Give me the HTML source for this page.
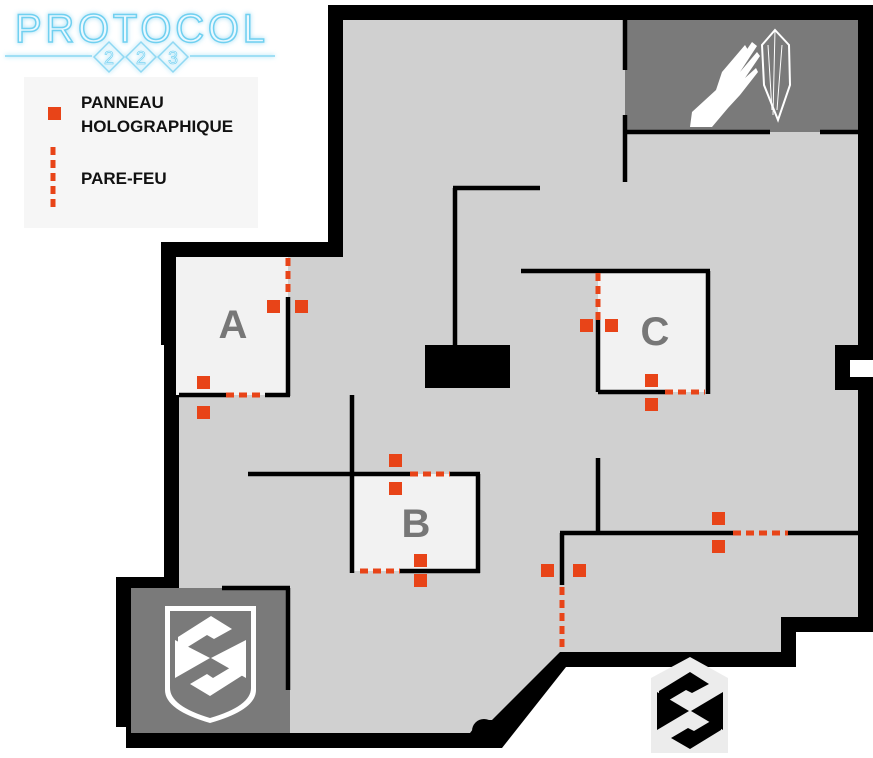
<!DOCTYPE html>
<html><head><meta charset="utf-8"><style>
body{margin:0;background:#fff;width:873px;height:753px;overflow:hidden;font-family:"Liberation Sans",sans-serif}
</style></head><body>
<svg width="873" height="753" viewBox="0 0 873 753" xmlns="http://www.w3.org/2000/svg">
<defs><filter id="gl" x="-20%" y="-50%" width="140%" height="200%"><feGaussianBlur stdDeviation="2.5" result="b"/><feMerge><feMergeNode in="b"/><feMergeNode in="SourceGraphic"/></feMerge></filter></defs>
<polygon fill="#000" points="328,5 873,5 873,632 796,632 796,667 566,667 502,748 126,748 126,727 116,727 116,577 164,577 164,345 161,345 161,242 328,242"/>
<polygon fill="#d0d0d0" points="343,20 858,20 858,617 781,617 781,652 560,652 492,720 480,720 470,733 141,733 141,717 131,717 131,592 179,592 179,350 176,350 176,257 343,257"/>
<circle cx="484" cy="731" r="12" fill="#000"/>
<rect x="470" y="733" width="28" height="15" fill="#000"/>
<rect x="835" y="345" width="38" height="45" fill="#000"/>
<rect x="850" y="360" width="23" height="17" fill="#fff"/>
<rect x="625" y="20" width="233" height="112" fill="#7a7a7a"/>
<rect x="131" y="588" width="159" height="145" fill="#7a7a7a"/>
<rect x="176" y="257" width="112" height="138" fill="#f2f2f2"/>
<rect x="598" y="271" width="110" height="121" fill="#f2f2f2"/>
<rect x="352" y="474" width="126" height="97" fill="#f2f2f2"/>
<g stroke="#000" stroke-width="4.5" fill="none">
<path d="M625 20V70M625 115V182M625 132H770M820 132H858"/>
<path d="M455 188V345M453 188H540"/>
<path d="M288 297V396M179 395H226M265 395H290"/>
<path d="M521 271H710M708 271V394M598 392H665M598 320V392"/>
<path d="M352 395V573M248 474H410M450 474H480M478 474V573M400 571H480"/>
<path d="M598 458V535M560 533H733M788 533H858M562 533V585"/>
<path d="M222 588H290M288 588V690"/>
</g>
<rect x="425" y="345" width="85" height="43" fill="#000"/>
<rect x="24" y="77" width="234" height="151" fill="#f6f6f6"/>
<g stroke="#e84418" stroke-width="5" stroke-dasharray="8,5" fill="none">
<path d="M288 258V297M226 395H265"/>
<path d="M598 273V320M665 392H705"/>
<path d="M410 474H450M360 571H400"/>
<path d="M733 533H788M562 587V650"/>
<path d="M53 147V209"/>
</g>
<g fill="#e84418">
<rect x="267" y="300" width="13" height="13"/><rect x="295" y="300" width="13" height="13"/>
<rect x="197" y="376" width="13" height="13"/><rect x="197" y="406" width="13" height="13"/>
<rect x="580" y="319" width="13" height="13"/><rect x="605" y="319" width="13" height="13"/>
<rect x="645" y="374" width="13" height="13"/><rect x="645" y="398" width="13" height="13"/>
<rect x="389" y="454" width="13" height="13"/><rect x="389" y="482" width="13" height="13"/>
<rect x="414" y="554" width="13" height="13"/><rect x="414" y="574" width="13" height="13"/>
<rect x="541" y="564" width="13" height="13"/><rect x="573" y="564" width="13" height="13"/>
<rect x="712" y="512" width="13" height="13"/><rect x="712" y="540" width="13" height="13"/>
<rect x="48" y="107" width="13" height="13"/>
</g>
<g fill="#777" font-weight="bold" font-size="40" text-anchor="middle">
<text x="233" y="338">A</text><text x="416" y="537">B</text><text x="655" y="345">C</text>
</g>
<g font-weight="bold" font-size="17" fill="#111">
<text x="81" y="108">PANNEAU</text><text x="81" y="132">HOLOGRAPHIQUE</text><text x="81" y="184">PARE-FEU</text>
</g>
<g filter="url(#gl)">
<text x="15" y="42" font-size="40" fill="#eaf8ff" stroke="#6fd0f0" stroke-width="1.5" textLength="250" lengthAdjust="spacing" font-family="Liberation Sans">PROTOCOL</text>
<path d="M5 56H92M190 56H275" stroke="#9fdff5" stroke-width="2"/>
<g fill="none" stroke="#8fd8f3" stroke-width="1.5"><path d="M94 57l15-15 15 15-15 15z"/><path d="M126 57l15-15 15 15-15 15z"/><path d="M158 57l15-15 15 15-15 15z"/></g>
<g font-size="18" fill="#dff5ff" stroke="#6fd0f0" stroke-width=".6" text-anchor="middle"><text x="109" y="64">2</text><text x="141" y="64">2</text><text x="173" y="64">3</text></g>
</g>
<path d="M690 127L692 112L716 90L722 72L745 45L748 50L730 74L752 42L757 46L740 72L757 52L760 56L745 78L756 68L758 72L740 95L728 108L712 127Z" fill="#fff"/>
<path d="M775 30L789 45L790 85L778 120L764 85L762 45Z" fill="none" stroke="#fff" stroke-width="2"/>
<path d="M775 30L773 115M768 45L772 110M782 45L777 110" stroke="#fff" stroke-width="1"/>
<path d="M165 606H256V690Q256 710 210 723Q165 710 165 690Z" fill="#fff"/>
<path d="M170 611H251V688Q251 706 210 718Q170 706 170 688Z" fill="#7a7a7a"/>
<path d="M178 637L211 616L232 629L214 639L207 635L178 653Z" fill="#fff"/>
<path d="M175 640L175 678L210 658Z" fill="#fff"/>
<path d="M246 640L246 678L211 658Z" fill="#fff"/>
<path d="M243 675L210 696L190 684L207 674L213 678L243 660Z" fill="#fff"/>
<polygon points="651,678 690,657 728,678 728,753 651,753" fill="#ececec"/>
<path d="M659 691L690 672L709 684L692 693L686 690L659 706Z" fill="#000"/>
<path d="M657 692V730L689 711Z" fill="#000"/>
<path d="M723 692V730L691 711Z" fill="#000"/>
<path d="M721 730L690 749L671 738L688 728L694 731L721 715Z" fill="#000"/>
</svg>
</body></html>
